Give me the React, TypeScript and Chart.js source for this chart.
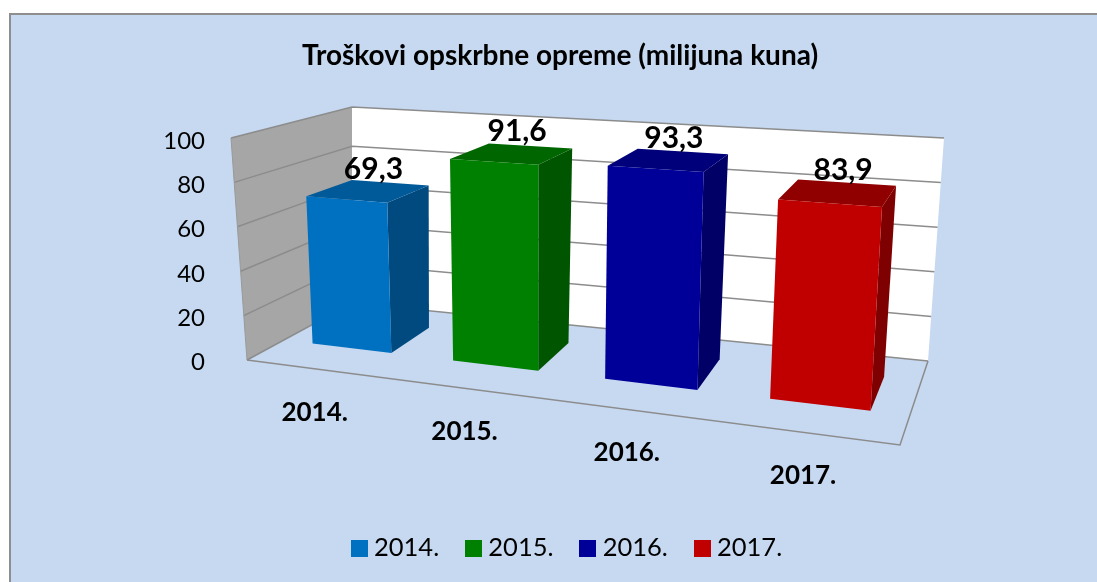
import React, { useEffect, useRef } from "react";
import { Chart, registerables } from "chart.js";

Chart.register(...registerables);

const categories = ["2014.", "2015.", "2016.", "2017."];
const values = [69.3, 91.6, 93.3, 83.9];
const yTicks = [0, 20, 40, 60, 80, 100];
const frontColors = ["#0070C0", "#008000", "#000099", "#C00000"];
const sideColors = ["#004A7F", "#005500", "#000066", "#7F0000"];
const topColors = ["#005A99", "#006600", "#00007A", "#900000"];

const FONT = "Lato";
type P = [number, number];

// cube corners on screen: u along categories, v along values, w into depth
const A: P = [247, 360], B: P = [900, 445], C: P = [352, 303], D: P = [928, 361];
const E: P = [231, 138], H: P = [915, 184], F: P = [352, 107], G: P = [944, 138];
const K = -0.15;
const W0 = 0.35, W1 = 0.76;
const BAR_V = 0.99;

const lerp = (a: P, b: P, t: number): P => [a[0] + (b[0] - a[0]) * t, a[1] + (b[1] - a[1]) * t];
const project = (u: number, v: number, w: number): P => {
  const p = (u * (1 + K)) / (1 + K * u);
  const bottom = lerp(lerp(A, B, p), lerp(C, D, p), w);
  const top = lerp(lerp(E, H, p), lerp(F, G, p), w);
  return lerp(bottom, top, v);
};

const poly = (ctx: CanvasRenderingContext2D, pts: P[], fill: string | null, stroke?: string, lw = 1) => {
  ctx.beginPath();
  pts.forEach((q, i) => (i ? ctx.lineTo(q[0], q[1]) : ctx.moveTo(q[0], q[1])));
  if (fill) {
    ctx.closePath();
    ctx.fillStyle = fill;
    ctx.fill();
  }
  if (stroke) {
    ctx.strokeStyle = stroke;
    ctx.lineWidth = lw;
    ctx.stroke();
  }
};

const swatch = (color: string) => {
  const c = document.createElement("canvas");
  c.width = 17;
  c.height = 17;
  const g = c.getContext("2d") as CanvasRenderingContext2D;
  g.fillStyle = color;
  g.fillRect(0, 0, 17, 17);
  return c;
};

const faux3d = {
  id: "faux3d",
  afterLayout(chart: any) {
    // tick labels overflow the narrow axis box; widen its clip area
    chart.scales.y.left = 150;
  },
  beforeDraw(chart: any) {
    const ctx = chart.ctx;
    ctx.save();
    ctx.fillStyle = "#FFFFFF";
    ctx.fillRect(0, 0, chart.width, chart.height);
    ctx.fillStyle = "#C6D9F1";
    ctx.fillRect(10, 14, chart.width - 10, chart.height - 14);
    ctx.fillStyle = "#8E8E8E";
    ctx.fillRect(9, 13, chart.width - 9, 2);
    ctx.fillRect(9, 13, 2, chart.height - 13);
    ctx.restore();
  },
  beforeDatasetsDraw(chart: any) {
    const ctx = chart.ctx;
    const y = chart.scales.y;
    const area = chart.chartArea;
    const vOf = (val: number) => (area.bottom - y.getPixelForValue(val)) / (area.bottom - area.top);
    ctx.save();
    poly(ctx, [project(0, 0, 0), project(0, 0, 1), project(0, 1, 1), project(0, 1, 0)], "#A6A6A6");
    poly(ctx, [project(0, 0, 1), project(1, 0, 1), project(1, 1, 1), project(0, 1, 1)], "#FFFFFF");
    yTicks.forEach((t) => {
      const v = vOf(t);
      poly(ctx, [project(0, v, 0), project(0, v, 1), project(1, v, 1)], null, "#8C8C8C", 1.5);
    });
    poly(ctx, [project(0, 0, 0), project(0, 1, 0)], null, "#9A9A9A", 1);
    poly(ctx, [project(0, 0, 0), project(1, 0, 0), project(1, 0, 1)], null, "#8C8C8C", 1.5);
    ctx.restore();
  },
  beforeDatasetDraw(chart: any, args: any) {
    const ctx = chart.ctx;
    const area = chart.chartArea;
    const W = area.right - area.left;
    const Ht = area.bottom - area.top;
    ctx.save();
    args.meta.data.forEach((bar: any, i: number) => {
      const { x, y, base, width } = bar.getProps(["x", "y", "base", "width"], true);
      const u0 = (x - width / 2 - area.left) / W;
      const u1 = (x + width / 2 - area.left) / W;
      const v0 = (area.bottom - base) / Ht;
      const v1 = (BAR_V * (area.bottom - y)) / Ht;
      poly(ctx, [project(u1, v0, W0), project(u1, v0, W1), project(u1, v1, W1), project(u1, v1, W0)], sideColors[i]);
      poly(ctx, [project(u0, v1, W0), project(u1, v1, W0), project(u1, v1, W1), project(u0, v1, W1)], topColors[i]);
      poly(ctx, [project(u0, v0, W0), project(u1, v0, W0), project(u1, v1, W0), project(u0, v1, W0)], frontColors[i]);
    });
    ctx.restore();
    return false;
  },
  afterDatasetsDraw(chart: any) {
    const ctx = chart.ctx;
    const area = chart.chartArea;
    const W = area.right - area.left;
    const Ht = area.bottom - area.top;
    const meta = chart.getDatasetMeta(0);
    ctx.save();
    ctx.fillStyle = "#000000";
    ctx.textAlign = "center";
    ctx.textBaseline = "middle";
    meta.data.forEach((bar: any, i: number) => {
      const { x, y, width } = bar.getProps(["x", "y", "width"], true);
      const uc = (x - area.left) / W;
      const v1 = (BAR_V * (area.bottom - y)) / Ht;
      const a = project((x - width / 2 - area.left) / W, v1, W0);
      const b = project((x + width / 2 - area.left) / W, v1, W1);
      ctx.font = `bold 30px ${FONT}`;
      ctx.fillText(values[i].toFixed(1).replace(".", ","), (a[0] + b[0]) / 2 + 6, (a[1] + b[1]) / 2 - 22);
      const g = project(uc, 0, 0);
      ctx.font = `bold 26px ${FONT}`;
      ctx.fillText(categories[i], g[0] - 3, g[1] + 43);
    });
    ctx.restore();
  },
};

export default function App() {
  const ref = useRef<HTMLCanvasElement | null>(null);
  useEffect(() => {
    document.body.style.margin = "0";
    const chart = new Chart(ref.current as HTMLCanvasElement, {
      type: "bar",
      data: {
        labels: categories,
        datasets: [{ data: values, backgroundColor: frontColors, barPercentage: 0.57, categoryPercentage: 1 }],
      },
      plugins: [faux3d],
      options: {
        responsive: false,
        animation: false,
        layout: { padding: { left: 191, right: 168, top: 0, bottom: 11 } },
        scales: {
          x: {
            grid: { display: false },
            border: { display: false },
            ticks: { display: false },
            afterFit: (s: any) => { s.height = 141; },
          },
          y: {
            min: 0,
            max: 100,
            grid: { display: false, drawTicks: false },
            border: { display: false },
            ticks: { stepSize: 20, padding: 5, color: "#000000", font: { family: FONT, size: 24 } },
            afterFit: (s: any) => { s.width = 19; },
          },
        },
        plugins: {
          title: {
            display: true,
            text: "Troškovi opskrbne opreme (milijuna kuna)",
            color: "#000000",
            font: { family: FONT, size: 28, weight: "bold" },
            padding: { top: 39.2, bottom: 68 },
          },
          legend: {
            position: "bottom",
            fullSize: false,
            labels: {
              usePointStyle: true,
              pointStyleWidth: 4.4,
              padding: 32,
              color: "#000000",
              font: { family: FONT, size: 25.5 },
              generateLabels: () =>
                categories.map((c, i) => ({
                  text: c,
                  fillStyle: frontColors[i],
                  strokeStyle: frontColors[i],
                  lineWidth: 0,
                  hidden: false,
                  index: i,
                  pointStyle: swatch(frontColors[i]),
                })),
            },
          },
          tooltip: { enabled: false },
        },
      },
    } as any);
    return () => chart.destroy();
  }, []);
  return (
    <div style={{ position: "absolute", left: 0, top: 0, width: 1097, height: 582 }}>
      <canvas ref={ref} width={1097} height={582} style={{ display: "block" }} />
    </div>
  );
}
